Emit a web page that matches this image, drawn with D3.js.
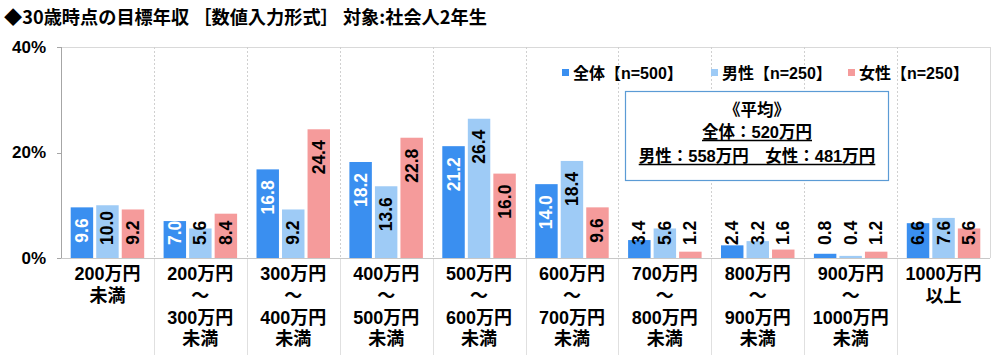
<!DOCTYPE html>
<html><head><meta charset="utf-8">
<script src="https://cdn.jsdelivr.net/npm/d3@7"></script>
<style>
html,body{margin:0;padding:0;background:#fff;}
svg{display:block;font-family:"Liberation Sans","Noto Sans CJK JP",sans-serif;}
</style></head>
<body><svg id="c" width="1000" height="355"></svg>
<script>
const title = "◆30歳時点の目標年収 ［数値入力形式］ 対象:社会人2年生";
const categories = ["200万円未満","200～300万円未満","300～400万円未満","400～500万円未満","500～600万円未満","600～700万円未満","700～800万円未満","800～900万円未満","900～1000万円未満","1000万円以上"];
const categoryLines = [
  ["200万円","未満"],
  ["200万円","～","300万円","未満"],
  ["300万円","～","400万円","未満"],
  ["400万円","～","500万円","未満"],
  ["500万円","～","600万円","未満"],
  ["600万円","～","700万円","未満"],
  ["700万円","～","800万円","未満"],
  ["800万円","～","900万円","未満"],
  ["900万円","～","1000万円","未満"],
  ["1000万円","以上"]
];
const seriesNames = ["全体【n=500】","男性【n=250】","女性【n=250】"];
const totalValues = [9.6, 7.0, 16.8, 18.2, 21.2, 14.0, 3.4, 2.4, 0.8, 6.6];
const maleValues  = [10.0, 5.6, 9.2, 13.6, 26.4, 18.4, 5.6, 3.2, 0.4, 7.6];
const femaleValues= [9.2, 8.4, 24.4, 22.8, 16.0, 9.6, 1.2, 1.6, 1.2, 5.6];
const yTicks = [0, 20, 40];
const averageLines = ["《平均》","全体：520万円","男性：558万円　女性：481万円"];

const colors = ["#3a8ff0","#9ecbf6","#f59b9b"];
const labelColors = ["#fff","#000","#000"];
const seriesValues = [totalValues, maleValues, femaleValues];

const svg = d3.select("#c");
const L = 61, R = 990, T = 47, B = 258;

const x = d3.scaleBand().domain(categories).range([L, R]).paddingInner(0).paddingOuter(0);
const xs = d3.scaleBand().domain([0,1,2]).range([0, x.bandwidth()]).paddingInner(0.12).paddingOuter(0.38);
const y = d3.scaleLinear().domain([0, 40]).range([B, T]);

// title
svg.append("text").attr("x", 4).attr("y", 24).attr("font-size", 18.2).attr("font-weight", "bold")
  .attr("font-family", "'Noto Sans CJK JP',sans-serif").text(title);

// frame: top & right
svg.append("line").attr("x1", L).attr("x2", R).attr("y1", T + 0.5).attr("y2", T + 0.5).attr("stroke", "#d9d9d9").attr("stroke-width", 1);
svg.append("line").attr("x1", R + 0.5).attr("x2", R + 0.5).attr("y1", T).attr("y2", B).attr("stroke", "#d9d9d9").attr("stroke-width", 1);

// category separators
categories.slice(1).forEach(c => {
  const xx = Math.round(x(c)) + 0.5;
  svg.append("line").attr("x1", xx).attr("x2", xx).attr("y1", T).attr("y2", B)
    .attr("stroke", "#d0d0d0").attr("stroke-dasharray", "2,2");
  svg.append("line").attr("x1", xx).attr("x2", xx).attr("y1", B).attr("y2", 355)
    .attr("stroke", "#e0e0e0");
});

// bars
const g = svg.append("g");
categories.forEach((c, i) => {
  seriesValues.forEach((vals, s) => {
    const v = vals[i];
    const bx = x(c) + xs(s);
    g.append("rect").attr("x", bx).attr("y", y(v)).attr("width", xs.bandwidth()).attr("height", B - y(v)).attr("fill", colors[s]);
  });
});

// labels
categories.forEach((c, i) => {
  seriesValues.forEach((vals, s) => {
    const v = vals[i];
    const cx = x(c) + xs(s) + xs.bandwidth() / 2;
    const t = svg.append("text").attr("font-size", 17.5).attr("font-weight", "bold")
      .attr("dominant-baseline", "central").text(v.toFixed(1));
    const len = t.node().getComputedTextLength();
    let top = y(v) + 11;
    let bottom = top + len;
    if (bottom > 245) { bottom = 245; }
    t.attr("text-anchor", "start").attr("transform", `translate(${cx},${bottom}) rotate(-90)`)
      .attr("fill", (bottom - len < y(v) - 2) ? "#000" : labelColors[s]);
  });
});

// y axis
svg.append("line").attr("x1", L + 0.5).attr("x2", L + 0.5).attr("y1", T).attr("y2", B).attr("stroke", "#a6a6a6");
svg.append("line").attr("x1", L).attr("x2", R).attr("y1", B + 0.5).attr("y2", B + 0.5).attr("stroke", "#c8c8c8");
yTicks.forEach(t => {
  svg.append("line").attr("x1", L - 4).attr("x2", L).attr("y1", Math.round(y(t)) + 0.5).attr("y2", Math.round(y(t)) + 0.5).attr("stroke", "#a6a6a6");
  svg.append("text").attr("x", 46).attr("y", y(t)).attr("text-anchor", "end").attr("dominant-baseline", "central")
    .attr("font-size", 17).attr("font-weight", "bold").text(t + "%");
});

// category labels
categories.forEach((c, i) => {
  const cx = x(c) + x.bandwidth() / 2;
  categoryLines[i].forEach((ln, k) => {
    svg.append("text").attr("x", cx).attr("y", 274 + k * 21.8).attr("text-anchor", "middle")
      .attr("dominant-baseline", "central").attr("font-size", 18).attr("font-weight", "bold").text(ln);
  });
});

// legend
const legendX = [562, 711, 848];
seriesNames.forEach((n, s) => {
  svg.append("rect").attr("x", legendX[s]).attr("y", 69).attr("width", 7).attr("height", 7).attr("fill", colors[s]);
  svg.append("text").attr("x", legendX[s] + 11).attr("y", 73).attr("dominant-baseline", "central")
    .attr("font-size", 16).attr("font-weight", "bold").text(n);
});

// average box
svg.append("rect").attr("x", 625.5).attr("y", 91.5).attr("width", 263).attr("height", 89).attr("fill", "#fff")
  .attr("stroke", "#5b9bd5").attr("stroke-width", 1.2);
const avgY = [110, 132, 156];
averageLines.forEach((ln, k) => {
  const t = svg.append("text").attr("x", 757).attr("y", avgY[k]).attr("text-anchor", "middle")
    .attr("dominant-baseline", "central").attr("font-size", 16.5).attr("font-weight", "bold").text(ln);
  if (k > 0) {
    const w = t.node().getComputedTextLength();
    svg.append("line").attr("x1", 757 - w / 2).attr("x2", 757 + w / 2).attr("y1", avgY[k] + 8.5).attr("y2", avgY[k] + 8.5)
      .attr("stroke", "#000").attr("stroke-width", 1.3);
  }
});
</script></body></html>
